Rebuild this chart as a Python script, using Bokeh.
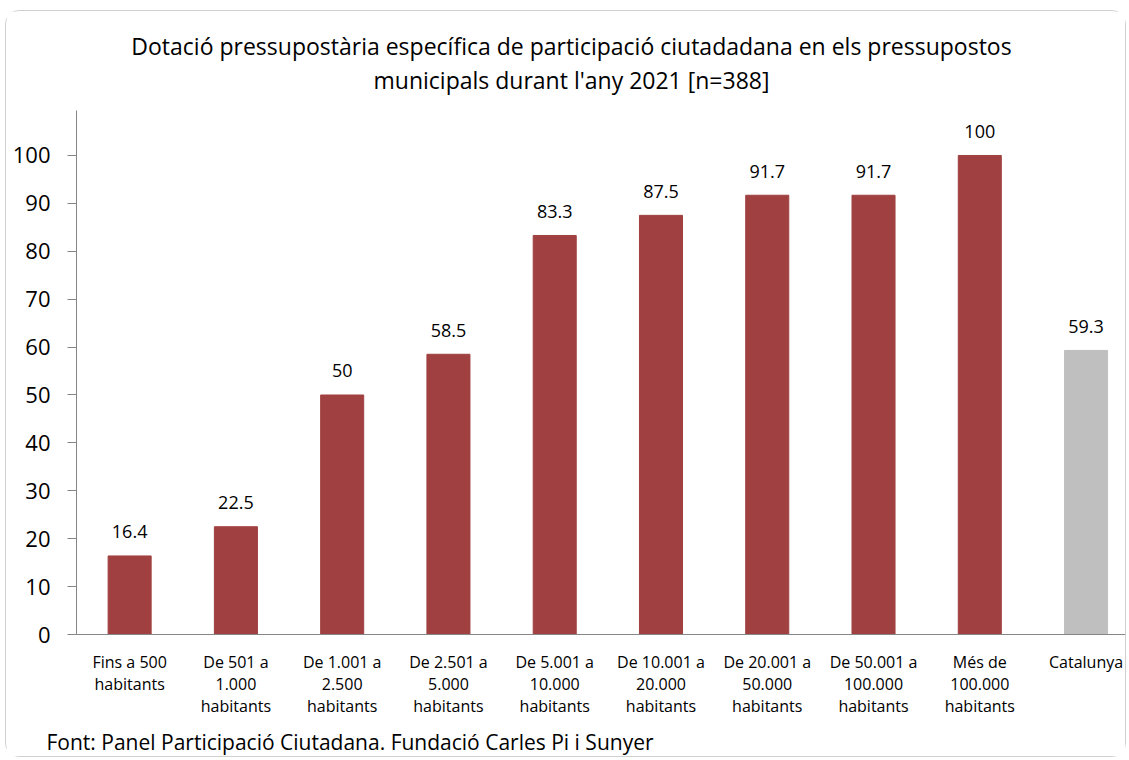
from bokeh.plotting import figure
from bokeh.models import Range1d, FixedTicker, LinearAxis
from bokeh.core.properties import value
from bokeh.embed import file_html
from bokeh.resources import INLINE

categories_l1 = ["Fins a 500", "De 501 a", "De 1.001 a", "De 2.501 a", "De 5.001 a",
                 "De 10.001 a", "De 20.001 a", "De 50.001 a", "Més de", "Catalunya"]
categories_l2 = ["habitants", "1.000", "2.500", "5.000", "10.000",
                 "20.000", "50.000", "100.000", "100.000", ""]
categories_l3 = ["", "habitants", "habitants", "habitants", "habitants",
                 "habitants", "habitants", "habitants", "habitants", ""]
values = [16.4, 22.5, 50, 58.5, 83.3, 87.5, 91.7, 91.7, 100, 59.3]
bar_colors = ["#A04040"] * 9 + ["#BFBFBF"]
y_ticks = list(range(0, 101, 10))

title_lines = ["Dotació pressupostària específica de participació ciutadadana en els pressupostos",
               "municipals durant l'any 2021 [n=388]"]
source_note = "Font: Panel Participació Ciutadana. Fundació Carles Pi i Sunyer"

FONT = "Open Sans"
xs = list(range(len(values)))
TITLE_X = 4.158    # horizontal centre of the title, in category units
NOTE_X = 2.074     # horizontal centre of the source note

p = figure(width=1121, height=747, output_backend="svg", toolbar_location=None,
           x_range=Range1d(-0.5, 9.39), y_range=Range1d(0, 109.39),
           min_border_left=70, min_border_right=0, min_border_top=99, min_border_bottom=124)
p.styles = {"border": "1px solid #d0d0d0", "border-radius": "14px",
            "margin-left": "5px", "margin-top": "10px"}

p.vbar(x=xs, top=values, width=0.405, color=bar_colors)
p.text(x=xs, y=values, text=[f"{v:g}" for v in values], text_align="center",
       text_baseline="middle", y_offset=-24, text_font=value(FONT),
       text_font_size="18px", text_color="black")

p.xgrid.visible = False
p.ygrid.visible = False
p.outline_line_color = None

ya = p.yaxis[0]
ya.ticker = FixedTicker(ticks=y_ticks)
ya.minor_tick_line_color = None
ya.major_tick_in = 0
ya.major_tick_out = 9
ya.major_tick_line_color = "#868686"
ya.axis_line_color = "#868686"
ya.major_label_standoff = 17
ya.major_label_text_font = FONT
ya.major_label_text_font_size = "22px"
ya.major_label_text_color = "black"


def text_axis(ax, ticks, labels, size, standoff, line=False):
    ax.ticker = FixedTicker(ticks=ticks)
    ax.major_label_overrides = {t: (s if s else " ") for t, s in zip(ticks, labels)}
    ax.minor_tick_line_color = None
    ax.major_tick_line_color = None
    ax.major_tick_in = 0
    ax.major_tick_out = 0
    ax.axis_line_color = "#868686" if line else None
    ax.major_label_standoff = standoff
    ax.major_label_text_font = FONT
    ax.major_label_text_font_size = size
    ax.major_label_text_color = "black"
    return ax


# category labels, one axis per text line
text_axis(p.xaxis[0], xs, categories_l1, "16px", 16, line=True)
p.add_layout(text_axis(LinearAxis(), xs, categories_l2, "16px", -3), "below")
p.add_layout(text_axis(LinearAxis(), xs, categories_l3, "16px", -3), "below")
# source note
p.add_layout(text_axis(LinearAxis(), [NOTE_X], [source_note], "21px", 8), "below")

# title, two centred lines (nearest to the plot first)
p.add_layout(text_axis(LinearAxis(), [TITLE_X], [title_lines[1]], "23px", 15), "above")
p.add_layout(text_axis(LinearAxis(), [TITLE_X], [title_lines[0]], "23px", -1), "above")

open("out.html", "w").write(file_html(p, INLINE))
